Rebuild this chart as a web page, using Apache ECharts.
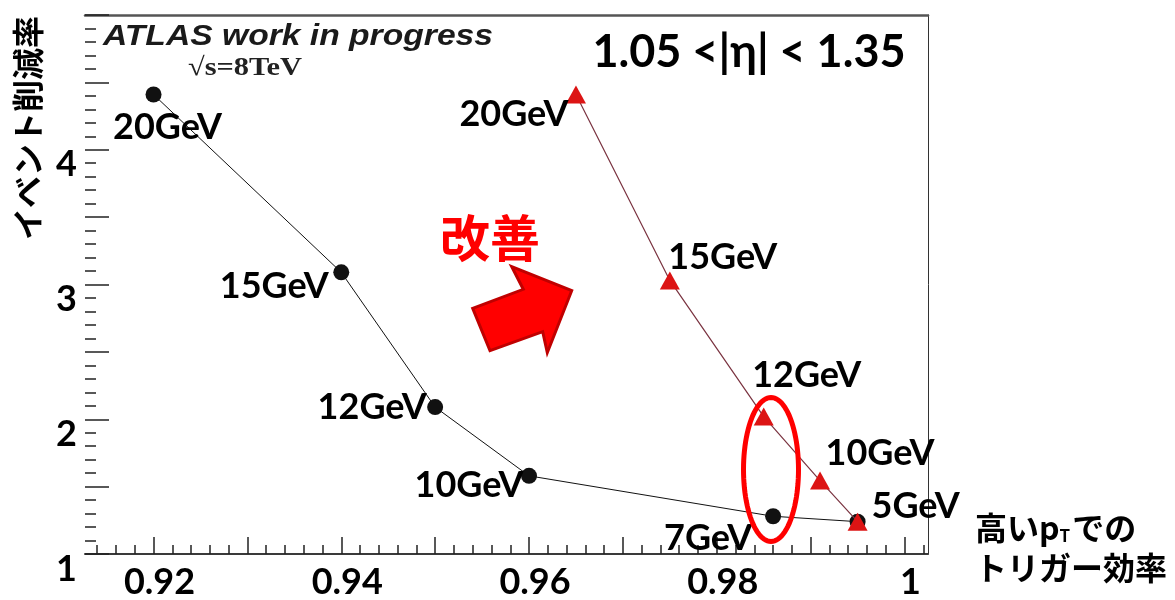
<!DOCTYPE html>
<html>
<head>
<meta charset="utf-8">
<script src="https://cdn.jsdelivr.net/npm/echarts@6/dist/echarts.min.js"></script>
<style>
  html, body { margin: 0; padding: 0; background: #fff; }
  #chart { width: 1175px; height: 600px; }
</style>
</head>
<body>
<div id="chart"></div>
<script>
// Trigger threshold scan: event reduction rate vs. trigger efficiency at high pT
const oldThresholds = ['20GeV', '15GeV', '12GeV', '10GeV', '7GeV', ''];
const oldEfficiency = [0.920, 0.940, 0.950, 0.960, 0.986, 0.995];
const oldReduction  = [4.41, 3.09, 2.09, 1.58, 1.28, 1.24];

const newThresholds = ['20GeV', '15GeV', '12GeV', '10GeV', '5GeV'];
const newEfficiency = [0.965, 0.975, 0.985, 0.991, 0.995];
const newReduction  = [4.41, 3.03, 2.02, 1.545, 1.24];

const xTickLabels = [0.92, 0.94, 0.96, 0.98, 1.00];
const xMajorTicks = [0.92, 0.93, 0.94, 0.95, 0.96, 0.97, 0.98, 0.99, 1.00];
const yTickLabels = [1, 2, 3, 4];

// label placement (pixel offsets from each marker)
const oldLabelOffsets = [[14, 33], [-67, 14], [-63, 0], [-60, 10], [-65, 22], [0, 0]];
const newLabelOffsets = [[-62, 20], [53, -23], [43, -41], [60, -27], [58, -15]];

const X_MIN = 0.9127, X_MAX = 1.0025;
const Y_MIN = 1, Y_MAX = 5;

const xMinorTicks = [];
for (let k = 457; k <= 501; k++) xMinorTicks.push(+(k * 0.002).toFixed(3));

const LABEL_FONT = { fontFamily: 'Lato', fontWeight: 'bold', fontSize: 36, color: '#000' };

function buildSeriesData(xs, ys, names, offsets) {
  return xs.map((x, i) => ({
    value: [x, ys[i]],
    label: { show: names[i] !== '', formatter: names[i], offset: offsets[i] }
  }));
}

// outline of the highlight ring around the 12GeV / 7GeV pair
function ringOutline(cx, cy, rx, ry, n) {
  const pts = [];
  for (let i = 0; i < n; i++) {
    const t = (i / n) * Math.PI * 2;
    pts.push([cx + rx * Math.cos(t), cy + ry * Math.sin(t)]);
  }
  return pts;
}

const chart = echarts.init(document.getElementById('chart'), null, { renderer: 'canvas' });

const option = {
  animation: false,
  backgroundColor: '#ffffff',
  grid: { left: 85, right: 247, top: 15, bottom: 37, containLabel: false },
  xAxis: [
    {
      type: 'value', min: X_MIN, max: X_MAX, position: 'bottom',
      axisLine: { show: true, onZero: false, lineStyle: { color: '#3a3a3a', width: 2 } },
      axisTick: { show: true, inside: true, length: 17, customValues: xMajorTicks,
                  lineStyle: { color: '#222', width: 1.5 } },
      axisLabel: { customValues: xTickLabels,
                   formatter: v => String(Math.round(v * 100) / 100),
                   ...LABEL_FONT, margin: 10, padding: [0, 0, 0, 12] },
      splitLine: { show: false }
    },
    {
      type: 'value', min: X_MIN, max: X_MAX, position: 'bottom',
      axisLine: { show: false },
      axisTick: { show: true, inside: true, length: 9, customValues: xMinorTicks,
                  lineStyle: { color: '#222', width: 1.5 } },
      axisLabel: { show: false },
      splitLine: { show: false }
    },
    {
      type: 'value', min: X_MIN, max: X_MAX, position: 'top',
      axisLine: { show: true, onZero: false, lineStyle: { color: '#555', width: 2.5 } },
      axisTick: { show: false }, axisLabel: { show: false }, splitLine: { show: false }
    }
  ],
  yAxis: [
    {
      type: 'value', min: Y_MIN, max: Y_MAX, interval: 0.5, position: 'left',
      axisLine: { show: false },
      axisTick: { show: true, inside: true, length: 24, lineStyle: { color: '#222', width: 1.5 } },
      minorTick: { show: true, splitNumber: 5, length: 11, lineStyle: { color: '#222', width: 1.5 } },
      axisLabel: { customValues: yTickLabels, formatter: v => String(v),
                   ...LABEL_FONT, margin: 8, verticalAlign: 'top', lineHeight: 30 },
      splitLine: { show: false }
    },
    {
      type: 'value', min: Y_MIN, max: Y_MAX, position: 'right',
      axisLine: { show: true, onZero: false, lineStyle: { color: '#333', width: 1 } },
      axisTick: { show: false }, axisLabel: { show: false }, splitLine: { show: false }
    }
  ],
  series: [
    {
      type: 'line', xAxisIndex: 0, yAxisIndex: 0, clip: false,
      data: buildSeriesData(oldEfficiency, oldReduction, oldThresholds, oldLabelOffsets),
      symbol: 'circle', symbolSize: 16,
      itemStyle: { color: '#111' },
      lineStyle: { color: '#111', width: 1 },
      label: { position: 'inside', align: 'center', verticalAlign: 'middle', ...LABEL_FONT },
      z: 2
    },
    {
      type: 'line', xAxisIndex: 0, yAxisIndex: 0, clip: false,
      data: buildSeriesData(newEfficiency, newReduction, newThresholds, newLabelOffsets),
      symbol: 'triangle', symbolSize: [20, 18],
      itemStyle: { color: '#dc1414' },
      lineStyle: { color: '#7a3340', width: 1.2 },
      label: { position: 'inside', align: 'center', verticalAlign: 'middle', ...LABEL_FONT },
      z: 3
    }
  ],
  graphic: [
    { type: 'text', x: 103, y: 22, scaleX: 1.16, z: 10,
      style: { text: 'ATLAS work in progress', font: 'italic bold 29px "Liberation Sans"', fill: '#1a1a1a' } },
    { type: 'text', x: 188, y: 55, scaleX: 1.17, z: 10,
      style: { text: '√s=8TeV', font: 'bold 26px "Liberation Serif"', fill: '#222' } },
    { type: 'text', x: 749, y: 52, z: 10,
      style: { text: '1.05 <|η| < 1.35', font: 'bold 45px Lato, "DejaVu Sans"', fill: '#000',
               textAlign: 'center', textVerticalAlign: 'middle' } },
    { type: 'text', x: 28, y: 128, rotation: Math.PI / 2, z: 10,
      style: { text: 'イベント削減率', font: 'bold 32px "Noto Sans CJK JP"', fill: '#000',
               textAlign: 'center', textVerticalAlign: 'middle' } },
    { type: 'text', x: 975, y: 508, z: 10,
      style: {
        text: '{a|高い}{b|p}{c|T}{a|での}\n{a|トリガー効率}',
        rich: {
          a: { font: 'bold 32px "Noto Sans CJK JP"', fill: '#000', lineHeight: 40 },
          b: { font: 'bold 32px "Noto Sans CJK JP"', fill: '#000', lineHeight: 40 },
          c: { font: 'bold 17px "Noto Sans CJK JP"', fill: '#000', lineHeight: 40, padding: [16, 2, 0, 0] }
        }
      } },
    { type: 'text', x: 490, y: 238, z: 10,
      style: { text: '改善', font: 'bold 50px "Noto Sans CJK JP"', fill: '#ff0000',
               textAlign: 'center', textVerticalAlign: 'middle' } },
    { type: 'polygon', z: 10,
      shape: { points: [[472.7, 308.3], [523.3, 289.3], [511.7, 266.7], [571.7, 290.7],
                        [547.3, 352.7], [542.7, 331.7], [490, 350.7]] },
      style: { fill: '#ff0000', stroke: '#c00000', lineWidth: 3, lineJoin: 'miter' } },
    { type: 'polygon', z: 10,
      shape: { points: ringOutline(771, 469.5, 27.5, 72, 96) },
      style: { fill: 'none', stroke: '#ff0000', lineWidth: 5 } }
  ]
};

chart.setOption(option);
</script>
</body>
</html>
